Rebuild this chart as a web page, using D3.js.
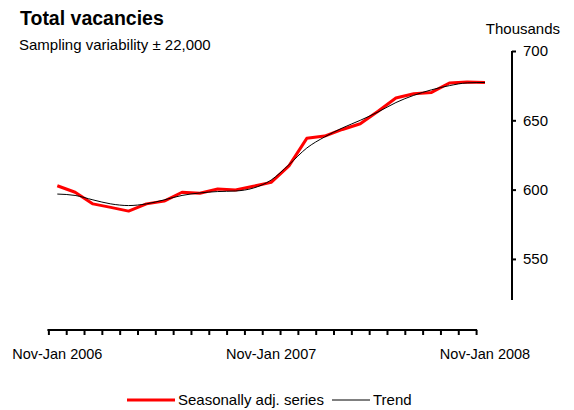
<!DOCTYPE html>
<html>
<head>
<meta charset="utf-8">
<script src="https://cdn.jsdelivr.net/npm/d3@7"></script>
<style>
  body { margin: 0; background: #fff; }
  svg { display: block; font-family: Arial, "Liberation Sans", sans-serif; }
</style>
</head>
<body>
<svg width="574" height="410"></svg>
<script>
// months Nov-Jan 2006 .. Nov-Jan 2008 (rolling quarters), thousands
const seasAdj = [602.8, 598.1, 589.7, 587.2, 584.5, 589.7, 591.7, 598.1, 597.4, 600.4, 599.7, 602.4, 605.2,
    617.1, 637.0, 638.6, 643.4, 647.5, 656.5, 666.1, 669.2, 670.1, 676.9, 677.6, 677.3];
const trend = [596.8, 595.8, 592.6, 589.7, 588.5, 589.7, 592.6, 595.8, 597.6, 598.6, 599.0, 601.1, 606.9,
    618.0, 630.0, 638.0, 644.5, 650.0, 656.0, 662.8, 668.0, 672.0, 675.0, 677.0, 677.3];
const xLabels = [[0, "Nov-Jan 2006"], [12, "Nov-Jan 2007"], [24, "Nov-Jan 2008"]];
const yTicks = [550, 600, 650, 700];

const svg = d3.select("svg");

const x = d3.scaleLinear().domain([0, 24]).range([57.3, 485]);
const y = d3.scaleLinear().domain([520, 700]).range([300.5, 51]);

// title
svg.append("text").attr("x", 20).attr("y", 25)
    .attr("font-size", 19.5).attr("font-weight", "bold").text("Total vacancies");
svg.append("text").attr("x", 19).attr("y", 49.5)
    .attr("font-size", 15).text("Sampling variability \u00b1 22,000");
svg.append("text").attr("x", 560).attr("y", 33.5).attr("text-anchor", "end")
    .attr("font-size", 15).text("Thousands");

// y axis on the right
const yAxis = svg.append("g").attr("transform", "translate(512,0)")
    .call(d3.axisRight(y).tickValues(yTicks).tickSize(4).tickPadding(7).tickSizeOuter(0));
yAxis.select(".domain").attr("stroke-width", 2).attr("d", `M0,${y(700)}V300`);
yAxis.selectAll(".tick line").attr("stroke-width", 2);
yAxis.selectAll(".tick text").attr("font-size", 15).attr("font-family", null);

// x axis: ticks between months
const tickPos = d3.range(25).map(j => j - 0.5);
const xAxis = svg.append("g").attr("transform", "translate(0,330)")
    .call(d3.axisBottom(x).tickValues(tickPos).tickSize(5).tickFormat("").tickSizeOuter(0));
xAxis.select(".domain").attr("stroke-width", 2).attr("d", `M${x(-0.5) - 1},0H${x(23.5) + 1}`);
xAxis.selectAll(".tick line").attr("stroke-width", 2);

svg.selectAll(".xlab")
    .data(xLabels)
    .enter()
    .append("text")
    .attr("class", "xlab")
    .attr("x", d => x(d[0]))
    .attr("y", 358.5)
    .attr("text-anchor", "middle")
    .attr("font-size", 14.5)
    .text(d => d[1]);

// series
svg.append("path")
    .datum(seasAdj)
    .attr("fill", "none")
    .attr("stroke", "#ff0000")
    .attr("stroke-width", 3)
    .attr("stroke-linejoin", "round")
    .attr("d", d3.line().x((d, i) => x(i)).y(d => y(d)));

svg.append("path")
    .datum(trend)
    .attr("fill", "none")
    .attr("stroke", "#000")
    .attr("stroke-width", 1)
    .attr("d", d3.line().x((d, i) => x(i)).y(d => y(d)).curve(d3.curveMonotoneX));

// legend
svg.append("line").attr("x1", 127).attr("x2", 175).attr("y1", 400).attr("y2", 400)
    .attr("stroke", "#ff0000").attr("stroke-width", 3);
svg.append("text").attr("x", 178).attr("y", 405).attr("font-size", 15).text("Seasonally adj. series");
svg.append("line").attr("x1", 332).attr("x2", 370).attr("y1", 400).attr("y2", 400)
    .attr("stroke", "#000").attr("stroke-width", 1);
svg.append("text").attr("x", 373).attr("y", 405).attr("font-size", 15).text("Trend");
</script>
</body>
</html>
